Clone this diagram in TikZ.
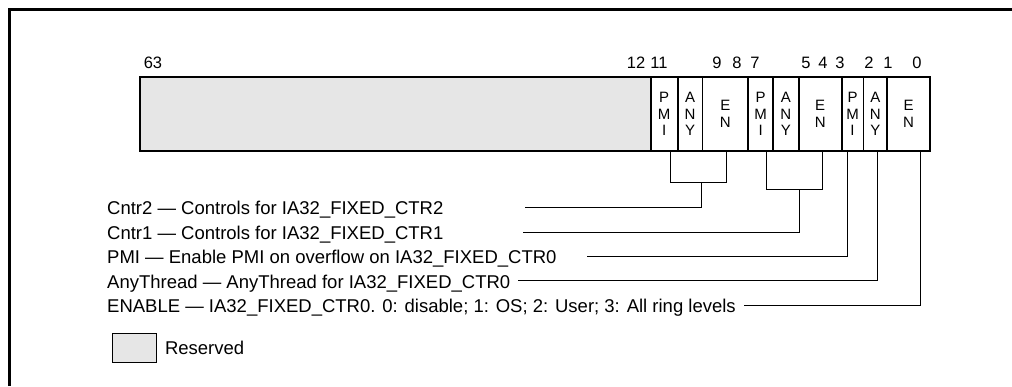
\documentclass[tikz,border=0pt]{standalone}
\usepackage{fontspec}
\setmainfont{Liberation Sans}
\usepackage{xcolor}
\definecolor{resgray}{RGB}{230, 230, 230}
\usetikzlibrary{calc}

\begin{document}
\begin{tikzpicture}[x=1pt, y=-1pt,
    field/.style={draw, line width=0.8pt, inner sep=0pt, minimum height=73pt, anchor=north west,
        align=center, font=\fontsize{15}{16.5}\selectfont},
    bitnum/.style={anchor=base, font=\fontsize{16.5}{18}\selectfont},
    desc/.style={anchor=base west, inner sep=0pt, font=\fontsize{18.5}{20}\selectfont},
    conn/.style={draw, line width=0.9pt}
]
\useasboundingbox (0,0) rectangle (1012,386);

% Marco exterior
\draw[line width=2.5pt] (9.5,386) -- (9.5,9.5) -- (1012,9.5);

% Campos del registro
\node[field, fill=resgray, minimum width=510pt] (res) at (140,77) {};
\node[field, minimum width=26pt] (pmi2) at (res.north east) {P\\M\\I};
\node[field, minimum width=24pt] (any2) at (pmi2.north east) {A\\N\\Y};
\node[field, minimum width=45pt] (en2) at (any2.north east) {E\\N};
\node[field, minimum width=24pt] (pmi1) at (en2.north east) {P\\M\\I};
\node[field, minimum width=25pt] (any1) at (pmi1.north east) {A\\N\\Y};
\node[field, minimum width=42pt] (en1) at (any1.north east) {E\\N};
\node[field, minimum width=21pt] (pmi0) at (en1.north east) {P\\M\\I};
\node[field, minimum width=23pt] (any0) at (pmi0.north east) {A\\N\\Y};
\node[field, minimum width=42pt] (en0) at (any0.north east) {E\\N};
\draw[line width=1.6pt] (res.north west) rectangle (en0.south east);

% Numeros de bit
\foreach \b/\x in {63/153, 12/636, 11/659, 9/717, 8/737, 7/755, 5/806, 4/823, 3/840, 2/869, 1/888, 0/917} {
    \node[bitnum] (bit\b) at (\x,68) {\b};
}

% Descripciones
\node[desc] (dcntr2) at (107,214) {Cntr2 — Controls for IA32\_FIXED\_CTR2};
\node[desc] (dcntr1) at (107,239) {Cntr1 — Controls for IA32\_FIXED\_CTR1};
\node[desc] (dpmi) at (107,263) {PMI — Enable PMI on overflow on IA32\_FIXED\_CTR0};
\node[desc] (dany) at (107,288) {AnyThread — AnyThread for IA32\_FIXED\_CTR0};
\node[desc] (den) at (107,312) {ENABLE — IA32\_FIXED\_CTR0. 0: disable; 1: OS; 2: User; 3: All ring levels};

% Extremos libres de las lineas
\coordinate (ecntr2) at (525,207);
\coordinate (ecntr1) at (523,232);
\coordinate (epmi) at (587,256);
\coordinate (eany) at (518,280);
\coordinate (een) at (744,305);

% Conectores
\draw[conn] ($(pmi2.south)+(6,0)$) |- ($(en2.south)+(1.5,32)$) -- ($(en2.south)+(1.5,0)$);
\draw[conn] ($(any2.south)+(11,32)$) |- (ecntr2);
\draw[conn] ($(pmi1.south)+(6,0)$) |- ($(en1.south)+(2,39)$) -- ($(en1.south)+(2,0)$);
\draw[conn] ($(any1.south)+(13.5,39)$) |- (ecntr1);
\draw[conn] ($(pmi0.south)+(-5.5,0)$) |- (epmi);
\draw[conn] ($(any0.south)+(2.5,0)$) |- (eany);
\draw[conn] ($(en0.south)+(12,0)$) |- (een);

% Leyenda
\node[draw, line width=0.8pt, fill=resgray, inner sep=0pt, minimum width=44pt, minimum height=29pt,
    anchor=north west] (legbox) at (112,333) {};
\node[desc, anchor=west, xshift=8pt] (legtxt) at (legbox.east) {Reserved};

\end{tikzpicture}
\end{document}
